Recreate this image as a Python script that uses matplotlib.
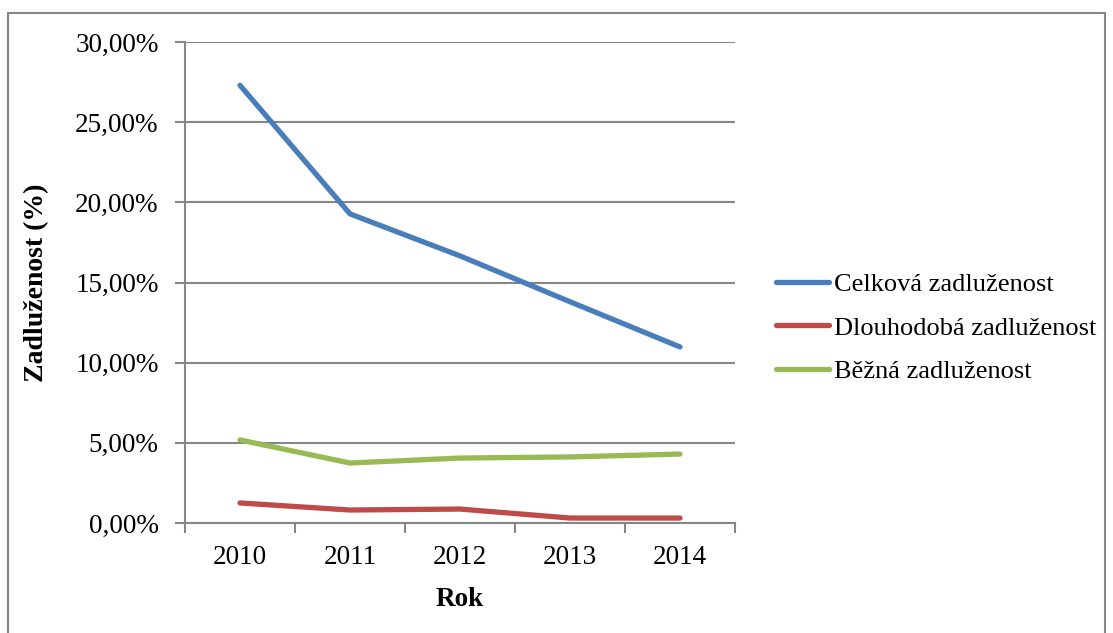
import matplotlib
matplotlib.use("Agg")
import matplotlib.pyplot as plt
from matplotlib.patches import Rectangle
from matplotlib.lines import Line2D

years = ["2010", "2011", "2012", "2013", "2014"]
celkova = [27.3, 19.28, 16.66, 13.8, 10.98]
dlouhodoba = [1.25, 0.81, 0.87, 0.31, 0.31]
bezna = [5.18, 3.74, 4.05, 4.12, 4.30]
series_names = ["Celková zadluženost", "Dlouhodobá zadluženost", "Běžná zadluženost"]
colors = ["#4A7EBB", "#BE4B48", "#98B954"]
yticks = [0, 5, 10, 15, 20, 25, 30]

plt.rcParams['font.family'] = ['Liberation Serif', 'DejaVu Serif']

W, H = 1113, 633
fig = plt.figure(figsize=(W / 100, H / 100), dpi=100)
ax = fig.add_axes([185 / W, 1 - 523 / H, (735 - 185) / W, (523 - 42) / H])

# outer chart border
fig.patches.append(Rectangle((8 / W, -0.05), (1105 - 8) / W, 1.05 - 13 / H,
                             transform=fig.transFigure, fill=False,
                             edgecolor="#868686", linewidth=1.5))

x = list(range(len(years)))
for vals, name, c in zip([celkova, dlouhodoba, bezna], series_names, colors):
    ax.plot(x, vals, color=c, linewidth=3.8, solid_capstyle="round",
            solid_joinstyle="round", label=name)

ax.set_xlim(-0.5, len(years) - 0.5)
ax.set_ylim(0, 30)
ax.set_yticks(yticks)
ax.set_yticklabels([f"{v:.2f}".replace(".", ",") + "%" for v in yticks], fontsize=19.5)
ax.yaxis.grid(True, color="#868686", linewidth=1.5)
ax.set_axisbelow(True)

ax.set_xticks([i - 0.5 for i in range(len(years) + 1)])
ax.set_xticklabels([])
ax.set_xticks(x, minor=True)
ax.set_xticklabels(years, minor=True, fontsize=19.5)
ax.tick_params(axis="x", which="minor", length=0, pad=16)
ax.tick_params(axis="x", which="major", length=7, width=1.5, color="#868686", direction="out")
ax.tick_params(axis="y", length=7, width=1.5, color="#868686", pad=12)

for s in ["top", "right"]:
    ax.spines[s].set_visible(False)
for s in ["left", "bottom"]:
    ax.spines[s].set_color("#868686")
    ax.spines[s].set_linewidth(1.5)

ax.set_xlabel("Rok", fontsize=19.5, fontweight="bold", labelpad=12)
ax.set_ylabel("Zadluženost (%)", fontsize=20, fontweight="bold", labelpad=19)

handles = [Line2D([0], [0], color=c, linewidth=3.8, solid_capstyle="round") for c in colors]
leg = fig.legend(handles, series_names, loc="center left",
                 bbox_to_anchor=(776 / W, 1 - 328 / H), frameon=False,
                 fontsize=19, handlelength=2.0, handletextpad=0.2, labelspacing=0.75,
                 borderaxespad=0, borderpad=0)

fig.savefig("out.png", dpi=100)
